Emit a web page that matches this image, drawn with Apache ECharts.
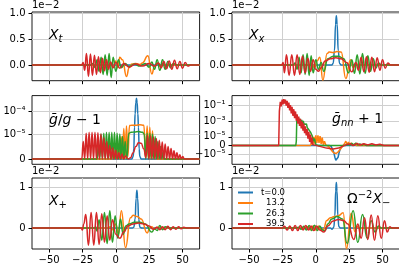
<!DOCTYPE html>
<html><head><meta charset="utf-8">
<script src="https://cdn.jsdelivr.net/npm/echarts@6/dist/echarts.min.js"></script>
<style>html,body{margin:0;padding:0;background:#fff}#c{width:399px;height:265px}</style>
</head><body><div id="c"></div>
<script>
// ---------- labels / ticks ----------
const seriesNames = ['t=0.0', '13.2', '26.3', '39.5'];
const colors = ['#1f77b4', '#ff7f0e', '#2ca02c', '#d62728'];
const xTicks = [-50, -25, 0, 25, 50];
const row1Ticks = [0, 0.5, 1.0];
const row3Ticks = [0, 1];
const ggTicks = [0, 1e-5, 1e-4];
const gnTicks = [-1e-5, 0, 1e-5, 1e-3, 1e-1];

// ---------- panel 1: X_t (units of 1e-2) ----------
const xt_b = [[-62.8,0],[62.8,0]];
const xt_o = [[-62.8,0],[-6,0],[-4,0.02],[-2,-0.04],[0,0.08],[1.5,-0.05],[3,0.15],[5,0.1],[8,-0.22],[10,-0.05],[12,0.02],[15,0.03],[18,0.01],[20,0.04],[24,0.18],[27,-0.17],[29,-0.03],[31,0.04],[33,-0.02],[36,0],[62.8,0]];
const xt_g = [[-62.8,0],[-19,0],[-17,0.03],[-15.5,-0.05],[-14,0.1],[-12.5,-0.12],[-11,0.15],[-9.5,-0.18],[-8,0.2],[-6.5,-0.2],[-5,0.22],[-3.5,-0.24],[-2,0.15],[0,-0.12],[2,0.1],[4,-0.05],[7,0.03],[10,-0.03],[14,0.02],[18,-0.02],[22,0.03],[25,-0.04],[27,0.06],[29,-0.08],[31,0.1],[33,-0.1],[35,0.1],[37,-0.08],[39,0.07],[41,-0.05],[43,0.03],[46,0],[62.8,0]];
const xt_r = [[-62.8,0],[-25.5,0],[-24.5,0.05],[-23.3,-0.1],[-22,0.22],[-20.5,-0.22],[-19,0.21],[-17.5,-0.2],[-16,0.19],[-14.5,-0.18],[-13,0.16],[-11.5,-0.15],[-10,0.13],[-8.5,-0.11],[-7,0.1],[-5.5,-0.08],[-4,0.06],[-2,-0.05],[0,0.05],[3,-0.06],[6,0.03],[10,-0.04],[15,0.02],[20,-0.02],[25,0.03],[29,-0.02],[32,0.04],[34,-0.05],[36,0.07],[38,-0.07],[40,0.08],[42,-0.08],[44,0.09],[46,-0.07],[48,0.07],[50,-0.06],[52,0.05],[54,-0.02],[56,0],[62.8,0]];

// ---------- panel 2: X_x ----------
const xx_b = [[-62.8,0],[12,0],[13,0.03],[14,0.28],[14.8,0.78],[15.4,0.95],[16,0.78],[16.8,0.28],[17.8,0.03],[19,0],[62.8,0]];
const xx_o = [[-62.8,0],[-5,0],[-3,0.03],[-1,-0.05],[1,0.08],[3,0.15],[5.3,-0.29],[8.5,0.22],[10,0.25],[13,0.24],[16,0.26],[19,0.25],[22.5,-0.26],[26,0.1],[28,-0.05],[30,0.02],[33,0],[62.8,0]];
const xx_g = [[-62.8,0],[-17,0],[-15.5,0.04],[-14,-0.08],[-12.5,0.15],[-11,-0.15],[-9.5,0.2],[-8,-0.18],[-6.5,0.22],[-5,-0.2],[-3.5,0.18],[-2,-0.15],[0,0.1],[2,-0.08],[4,0.05],[6,-0.12],[9,0.12],[13,0.17],[17,0.17],[21,0.12],[24.5,-0.15],[27,0.1],[29,-0.16],[31,0.2],[33,-0.17],[35,0.22],[37,-0.16],[39,0.18],[41,-0.12],[43,0.12],[45,-0.06],[47,0.04],[49,0],[62.8,0]];
const xx_r = [[-62.8,0],[-25.5,0],[-24.5,0.05],[-23.5,-0.15],[-22,0.2],[-20,-0.2],[-18,0.2],[-16,-0.2],[-14,0.2],[-12,-0.18],[-10,0.17],[-8,-0.15],[-6,0.13],[-4,-0.12],[-2,0.1],[0,-0.08],[2,-0.12],[4,-0.05],[7,0.08],[11,0.12],[15,0.14],[19,0.12],[23,0.05],[27,-0.13],[30,0.05],[32,-0.1],[34,0.15],[36,-0.13],[38,0.16],[40,-0.14],[42,0.15],[44,-0.13],[46,0.14],[48,-0.1],[50,0.1],[52,-0.06],[54,0.04],[56,0],[62.8,0]];

// ---------- panel 3: gbar/g - 1 (raw values, symlog axis) ----------
const gg_b = [[-62.8,0],[12,0],[13,1e-6],[13.5,4e-6],[14,2e-5],[14.5,8e-5],[15,2.5e-4],[15.5,4e-4],[16,2.5e-4],[16.5,8e-5],[17,2e-5],[17.5,4e-6],[18,1e-6],[19,0],[62.8,0]];
const gg_o = [[-62.8,0],[-3,0],[-2,2e-6],[-1,0],[0,4e-6],[1,0],[2,6e-6],[3,0],[4,9e-6],[5,0],[6,1.8e-5],[7,0],[8,2.3e-5],[9,1e-6],[10.3,2.4e-5],[12,2.5e-5],[15,2.5e-5],[18,2.6e-5],[21,2.5e-5],[22.3,1e-6],[23.5,2.3e-5],[24.5,0],[25.5,2e-5],[26.5,0],[27.5,1.4e-5],[28.5,0],[29.5,6e-6],[30.5,0],[62.8,0]];
const gg_g = [[-62.8,0],[-14,0],[-13,6e-6],[-12,0],[-11,1e-5],[-10,0],[-9,1.1e-5],[-8,0],[-7,1.2e-5],[-6,0],[-5,1.2e-5],[-4,0],[-3,1.2e-5],[-2,0],[-1,1.2e-5],[0,0],[1,1.1e-5],[2,0],[3,1e-5],[4,0],[5,9e-6],[6,0],[7,7e-6],[8.2,0],[9.8,1.1e-5],[11.5,1.2e-5],[14,1.25e-5],[17,1.3e-5],[20,1.2e-5],[21.3,1e-5],[22.4,0],[23.5,1.1e-5],[24.5,0],[25.5,1.1e-5],[26.5,0],[27.5,1e-5],[28.5,0],[29.5,9e-6],[30.5,0],[31.5,7e-6],[32.5,0],[33.5,5e-6],[34.5,0],[35.5,3e-6],[36.5,0],[62.8,0]];
const gg_r = [[-62.8,0],[-25.5,0],[-24.4,7e-6],[-23.3,0],[-22.2,1.1e-5],[-21.1,0],[-20,1.2e-5],[-18.9,0],[-17.8,1.2e-5],[-16.7,0],[-15.6,1.2e-5],[-14.5,0],[-13.4,1.15e-5],[-12.3,0],[-11.2,1e-5],[-10.1,0],[-9,8.5e-6],[-7.9,0],[-6.8,7e-6],[-5.7,0],[-4.6,5.5e-6],[-3.5,0],[-2.4,4.5e-6],[-1.3,0],[-0.2,3.5e-6],[1,0],[2.2,2.5e-6],[3.4,0],[4.6,2e-6],[5.9,0],[7.2,1.2e-6],[9.5,0],[11,5e-7],[13,2.5e-6],[15,5e-6],[17,6.5e-6],[19,6.3e-6],[21,4e-6],[22.6,5e-7],[23.8,9.5e-6],[24.9,0],[26,9.2e-6],[27.1,0],[28.2,8.8e-6],[29.3,0],[30.4,8.2e-6],[31.5,0],[32.6,7.5e-6],[33.7,0],[34.8,6.8e-6],[35.9,0],[37,6e-6],[38.1,0],[39.2,5e-6],[40.3,0],[41.4,4.2e-6],[42.5,0],[43.6,3.3e-6],[44.7,0],[45.8,2.5e-6],[46.9,0],[48,1.7e-6],[49.1,0],[50.2,1e-6],[51.3,0],[62.8,0]];

// ---------- panel 4: gbar_nn + 1 (raw values, symlog axis) ----------
const gn_b = [[-62.8,0],[10,0],[11.5,-1e-6],[12.5,-4e-6],[13.5,-8e-6],[14.3,-2.5e-5],[15,-6e-5],[15.5,-8e-5],[16,-6e-5],[16.7,-2.5e-5],[17.5,-8e-6],[18.5,-3e-6],[19.5,-1e-6],[20.5,0],[62.8,0]];
const gn_o = [[-62.8,0],[-4,0],[-3,3e-6],[-2.3,5e-7],[-1.5,1e-5],[-0.8,2e-6],[0,1.6e-5],[0.8,3e-6],[1.6,1.5e-5],[2.4,3e-6],[3.2,1.2e-5],[4,2e-6],[4.8,9e-6],[5.6,1e-6],[6.5,5e-6],[7.5,5e-7],[8.5,2e-6],[9.5,-1e-6],[11,-4e-6],[12.5,-7e-6],[14,-9e-6],[15.5,-9e-6],[17,-7e-6],[18.5,-4e-6],[20,-1e-6],[21.5,2e-6],[22.5,5e-6],[23.5,1e-6],[24.5,4e-6],[25.5,5e-7],[26.5,3e-6],[27.5,0],[29,1.5e-6],[30.5,0],[62.8,0]];
const gn_g = [[-62.8,0],[-15,0],[-14.6,5e-6],[-14.2,3e-3],[-13.6,1.2e-3],[-13,2.5e-3],[-12.4,1e-3],[-11.8,2e-3],[-11.2,8e-4],[-10.6,1.5e-3],[-10,6e-4],[-9.4,1.1e-3],[-8.8,4e-4],[-8.2,7e-4],[-7.6,2.5e-4],[-7,4.5e-4],[-6.4,1.5e-4],[-5.8,2.5e-4],[-5.2,8e-5],[-4.6,1.3e-4],[-4,4e-5],[-3.4,6e-5],[-2.8,1.5e-5],[-2.2,2.5e-5],[-1.6,5e-6],[-1,8e-6],[0,1e-6],[2,0],[22,0],[24,1.5e-6],[25.5,3e-7],[27,2.5e-6],[28.5,5e-7],[30,3e-6],[31.5,5e-7],[33,2e-6],[34.5,3e-7],[36,1.5e-6],[38,0],[62.8,0]];
const gn_r = [[-62.8,0],[-27.8,0],[-27.3,0.02],[-26.6,0.3],[-25.9,0.08],[-25.2,0.6],[-24.6,0.15],[-24,0.7],[-23.4,0.18],[-22.8,0.6],[-22.2,0.1],[-21.5,0.4],[-20.9,0.05],[-20.2,0.25],[-19.6,0.025],[-19,0.12],[-18.4,0.01],[-17.8,0.07],[-17.2,0.005],[-16.5,0.035],[-15.9,0.0025],[-15.2,0.018],[-14.6,0.0012],[-14,0.008],[-13.4,5e-4],[-12.8,4e-3],[-12.2,2.5e-4],[-11.5,2e-3],[-10.9,1.2e-4],[-10.2,9e-4],[-9.6,6e-5],[-9,5e-4],[-8.4,3e-5],[-7.8,2.2e-4],[-7.2,1.5e-5],[-6.5,1e-4],[-5.9,8e-6],[-5.2,4.5e-5],[-4.6,4e-6],[-4,2e-5],[-3.4,2e-6],[-2.8,9e-6],[-2.2,1e-6],[-1.5,3e-6],[-0.8,0],[3,-1e-6],[8,-3e-6],[13,-4e-6],[17,-3e-6],[20,-1e-6],[23,1e-6],[26,2e-6],[28,0],[31,2.5e-6],[33,5e-7],[36,2e-6],[39,5e-7],[42,2e-6],[45,5e-7],[48,1.5e-6],[51,0],[62.8,0]];

// ---------- panel 5: X_+ ----------
const xp_b = [[-62.8,0],[12.5,0],[13.5,0.02],[14.5,0.22],[15.2,0.72],[15.8,0.92],[16.4,0.72],[17.1,0.22],[18.1,0.02],[19.5,0],[62.8,0]];
const xp_o = [[-62.8,0],[-6,0],[-4,0.03],[-2,-0.05],[0,0.1],[2,-0.15],[4.2,0.42],[7.3,-0.48],[11,0.25],[13,0.31],[16,0.28],[19,0.22],[23.5,-0.12],[25.5,0],[27,0.03],[29,-0.03],[31,0.02],[34,0],[62.8,0]];
const xp_g = [[-62.8,0],[-16,0],[-15,0.03],[-14,-0.08],[-12.5,0.2],[-10.5,-0.3],[-8.5,0.38],[-6.5,-0.38],[-4.5,0.42],[-2.5,-0.35],[-0.5,0.3],[1.5,-0.25],[3.5,0.22],[5.5,-0.15],[7.5,0.05],[10,0.1],[14,0.14],[18,0.14],[22,0.1],[27,-0.1],[29,-0.02],[31,-0.06],[33,0.06],[35,-0.04],[37,0.03],[40,0],[62.8,0]];
const xp_r = [[-62.8,0],[-26,0],[-25,-0.05],[-24,0.1],[-22.5,0.33],[-20.5,-0.42],[-18.5,0.38],[-16.5,-0.42],[-14.5,0.38],[-12.5,-0.4],[-10.5,0.35],[-8.5,-0.35],[-6.5,0.3],[-4.5,-0.3],[-2.5,0.2],[0,-0.15],[3,-0.25],[6,-0.1],[9,0.05],[13,0.1],[17,0.12],[21,0.1],[25,0.05],[28,-0.03],[31,0.02],[33,-0.04],[35,0.03],[37,-0.04],[39,0.04],[41,-0.04],[43,0.03],[45,-0.03],[47,0.03],[49,-0.02],[51,0.02],[53,0],[62.8,0]];

// ---------- panel 6: Omega^-2 X_- ----------
const xm_b = [[-62.8,0],[11,0],[12.2,-0.03],[13.5,0.02],[14.3,0.3],[14.9,0.9],[15.4,1.11],[15.9,0.9],[16.5,0.3],[17.3,0.03],[18.5,0],[62.8,0]];
const xm_o = [[-62.8,0],[-8,0],[-6,0.03],[-4,-0.04],[-2,0.05],[0,-0.05],[2,0.05],[4,-0.06],[6,-0.02],[8,0.18],[11,0.25],[14,0.28],[17,0.3],[20.5,0.37],[23,-0.5],[26.5,0.36],[29.5,-0.1],[31,0.04],[33,-0.02],[35,0],[62.8,0]];
const xm_g = [[-62.8,0],[-15,0],[-13,0.02],[-11,-0.03],[-9,0.04],[-7,-0.05],[-5,0.06],[-3,-0.06],[-1,0.07],[1,-0.06],[3,0.05],[5,-0.05],[7,-0.06],[9,0.1],[12,0.22],[16,0.28],[20,0.22],[23.5,-0.38],[28,0.42],[31.5,-0.35],[35,0.33],[38.5,-0.25],[41.5,0.18],[44.5,-0.1],[47,0.05],[49,0],[62.8,0]];
const xm_r = [[-62.8,0],[-25,0],[-23.5,0.04],[-21.5,-0.05],[-19.5,0.05],[-17.5,-0.06],[-15.5,0.06],[-13.5,-0.06],[-11.5,0.06],[-9.5,-0.05],[-7.5,0.06],[-5.5,-0.05],[-3.5,0.05],[-1.5,-0.06],[0.5,0.05],[3,-0.05],[6,-0.1],[9,0.05],[13,0.17],[17,0.21],[21,0.18],[24,0.1],[28.5,-0.28],[31.5,0.1],[34,-0.25],[36.5,0.25],[39,-0.28],[41.5,0.32],[44,-0.3],[46.5,0.3],[49,-0.25],[51.5,0.18],[53.5,-0.1],[55.5,0.03],[57,0],[62.8,0]];

// ---------- helpers ----------
const LINTHRESH = 1e-5, LINSCALE = 1 / (1 - 1 / 10);
function symlog(v) {
  const a = Math.abs(v);
  if (a <= LINTHRESH) return v / LINTHRESH * LINSCALE;
  return Math.sign(v) * (LINSCALE + Math.log10(a / LINTHRESH));
}
const SUP = {'-':'\u207B','0':'\u2070','1':'\u00B9','2':'\u00B2','3':'\u00B3','4':'\u2074','5':'\u2075','6':'\u2076','7':'\u2077','8':'\u2078','9':'\u2079'};
function powLabel(v) {
  if (v === 0) return '0';
  const e = Math.round(Math.log10(Math.abs(v)));
  return (v < 0 ? '\u2212' : '') + '10' + String(e).split('').map(c => SUP[c]).join('');
}
const minus = v => (v < 0 ? '\u2212' + (-v) : String(v));

const FONT = 'DejaVu Sans';
const GL = 32, GR = 232, GW = 167.6;
const XMIN = -62.8, XMAX = 62.8;
const rows = [{top: 12, height: 68.7}, {top: 95.6, height: 68.7}, {top: 178, height: 71}];

const panels = [
  {col: 0, row: 0, data: [xt_b, xt_o, xt_g, xt_r], min: -0.301, max: 1.02, ticks: row1Ticks, fmt: v => v.toFixed(1), log: false, offset: true},
  {col: 1, row: 0, data: [xx_b, xx_o, xx_g, xx_r], min: -0.301, max: 1.02, ticks: row1Ticks, fmt: v => v.toFixed(1), log: false, offset: true},
  {col: 0, row: 1, data: [gg_b, gg_o, gg_g, gg_r], min: -0.237, max: 2.83, ticks: ggTicks, fmt: powLabel, log: true, offset: false},
  {col: 1, row: 1, data: [gn_b, gn_o, gn_g, gn_r], min: -2.41, max: 6.4, ticks: gnTicks, fmt: powLabel, log: true, offset: false},
  {col: 0, row: 2, data: [xp_b, xp_o, xp_g, xp_r], min: -0.512, max: 1.22, ticks: row3Ticks, fmt: v => String(Math.round(v)), log: false, offset: true},
  {col: 1, row: 2, data: [xm_b, xm_o, xm_g, xm_r], min: -0.512, max: 1.22, ticks: row3Ticks, fmt: v => String(Math.round(v)), log: false, offset: true}
];

const grid = [], xAxis = [], yAxis = [], series = [];
const axisTxt = {color: '#000', fontSize: 10, fontFamily: FONT};
const split = {show: true, lineStyle: {color: '#cfcfcf', width: 1}};
panels.forEach((p, i) => {
  grid.push({left: p.col ? GR : GL, width: GW, top: rows[p.row].top, height: rows[p.row].height,
    show: true, borderColor: '#000', borderWidth: 0.9, containLabel: false, outerBoundsMode: 'none'});
  xAxis.push({type: 'value', gridIndex: i, min: XMIN, max: XMAX, position: 'bottom',
    axisLine: {show: false, onZero: false},
    axisTick: {show: true, length: 3.5, lineStyle: {color: '#000'}, customValues: xTicks},
    axisLabel: Object.assign({show: p.row === 2, margin: 6, customValues: xTicks, formatter: minus}, axisTxt),
    splitLine: split});
  const tv = p.log ? p.ticks.map(symlog) : p.ticks;
  yAxis.push({type: 'value', gridIndex: i, min: p.min, max: p.max, position: 'left',
    name: p.offset ? '1e\u22122' : '', nameLocation: 'end', nameGap: 2, nameMoveOverlap: false,
    nameTextStyle: {color: '#000', fontSize: 10, fontFamily: FONT, align: 'left', verticalAlign: 'bottom'},
    axisLine: {show: false, onZero: false},
    axisTick: {show: true, length: 3.5, lineStyle: {color: '#000'}, customValues: tv},
    axisLabel: {show: false, customValues: tv},
    splitLine: split});
  p.data.forEach((d, j) => {
    series.push({type: 'line', name: seriesNames[j], xAxisIndex: i, yAxisIndex: i,
      data: p.log ? d.map(q => [q[0], symlog(q[1])]) : d,
      showSymbol: false, symbol: 'none', z: 2 + j,
      smooth: i === 3 ? false : 0.5, smoothMonotone: 'x',
      lineStyle: {color: colors[j], width: 1.5}, itemStyle: {color: colors[j]},
      animation: false});
  });
});

const mi = {fontFamily: FONT, fontStyle: 'italic', fontSize: 14, lineHeight: 18};
const mn = {fontFamily: FONT, fontSize: 14, lineHeight: 18};
const sbI = {fontFamily: FONT, fontStyle: 'italic', fontSize: 10, lineHeight: 8, verticalAlign: 'bottom'};
const sbN = {fontFamily: FONT, fontSize: 10, lineHeight: 8, verticalAlign: 'bottom'};
const spN = {fontFamily: FONT, fontSize: 10, lineHeight: 8, verticalAlign: 'top'};
const rich = {i: mi, n: mn, si: sbI, sn: sbN, p: spN};
function label(x, y, text) {
  return {type: 'text', x: x, y: y, z: 100, style: {text: text, rich: rich, fill: '#000', verticalAlign: 'middle'}};
}
const annotations = [
  label(49, 35, '{i|X}{si|t}'),
  label(249, 35, '{i|X}{si|x}'),
  label(49, 120, '{i|\u1E21}{n|/}{i|g}{n| \u2212 1}'),
  label(332, 119, '{i|\u1E21}{si|nn}{n| + 1}'),
  label(49, 201, '{i|X}{sn|+}'),
  label(347, 199, '{n|\u03A9}{p|\u22122}{i|X}{sn|\u2212}')
];

const option = {
  animation: false,
  color: colors,
  grid: grid, xAxis: xAxis, yAxis: yAxis, series: series,
  legend: {show: true, left: 233, top: 183, orient: 'vertical', itemWidth: 15, itemHeight: 2, itemGap: 1.5,
    icon: 'rect', selectedMode: false, data: seriesNames,
    formatter: n => '{r|' + n + '}',
    textStyle: {color: '#000', fontFamily: FONT, fontSize: 8.5, rich: {r: {width: 27, align: 'right', fontSize: 8.5, fontFamily: FONT}}}},
  graphic: annotations
};
const chart = echarts.init(document.getElementById('c'), null, {renderer: 'canvas', width: 399, height: 265});
chart.setOption(option);

// y tick labels: positioned through each panel's own axis scale
const yLabels = [];
panels.forEach((p, i) => p.ticks.forEach(v => {
  const pt = chart.convertToPixel({gridIndex: i}, [XMIN, p.log ? symlog(v) : v]);
  yLabels.push({type: 'text', x: pt[0] - 6.5, y: pt[1], z: 100, zlevel: 1,
    style: {text: p.fmt(v), fill: '#000', font: '10px "DejaVu Sans"', align: 'right', verticalAlign: 'middle'}});
}));
chart.setOption({graphic: annotations.concat(yLabels)});
</script></body></html>
